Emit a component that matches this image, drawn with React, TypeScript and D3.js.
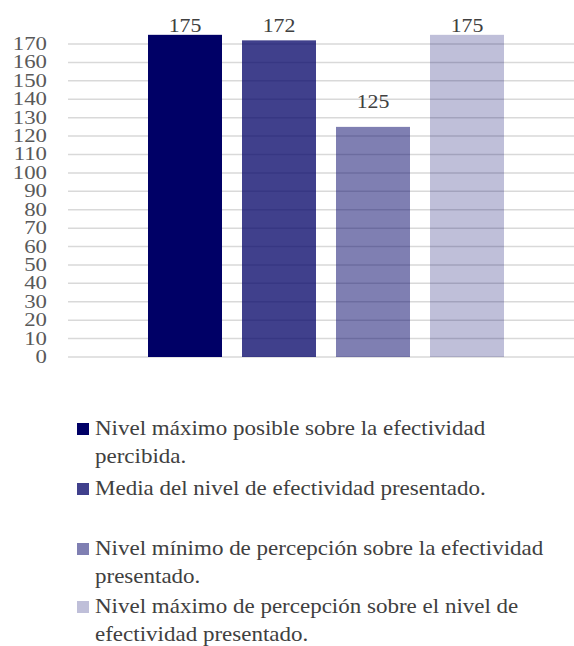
import React from "react";
import * as d3 from "d3";

const series = [
  "Nivel máximo posible sobre la efectividad percibida.",
  "Media del nivel de efectividad presentado.",
  "Nivel mínimo de percepción sobre la efectividad presentado.",
  "Nivel máximo de percepción sobre el nivel de efectividad presentado.",
];
const values = [175, 172, 125, 175];
const opacities = [1, 0.75, 0.5, 0.25];
const legendLines = [
  ["Nivel máximo posible sobre la efectividad", "percibida."],
  ["Media del nivel de efectividad presentado."],
  ["Nivel mínimo de percepción sobre la efectividad", "presentado."],
  ["Nivel máximo de percepción sobre el nivel de", "efectividad presentado."],
];
const yTicks = d3.range(0, 171, 10);

const W = 574;
const H = 646;
const FONT = "'Liberation Serif', 'Times New Roman', Times, serif";
const BASE = "#000066";

export default function App() {
  const y = d3.scaleLinear().domain([0, 180]).range([357, 357 - 18 * 18.41]);
  const x = d3
    .scaleBand<string>()
    .domain(series)
    .range([148, 504])
    .paddingInner(20 / 94)
    .paddingOuter(0);
  const legendY = [435, 495, 555, 613];

  return (
    <div style={{ position: "absolute", left: 0, top: 0 }}>
      <svg width={W} height={H} style={{ display: "block" }}>
        <rect width={W} height={H} fill="#fff" />
        {yTicks.map((t) => (
          <g key={t}>
            <line x1={68} x2={574} y1={y(t)} y2={y(t)} stroke="#d9d9d9" strokeWidth={1.5} />
            <text
              transform={`translate(47,${y(t) + 6}) scale(1.2,1)`}
              textAnchor="end"
              fontSize={19}
              fill="#595959"
              fontFamily={FONT}
            >
              {t}
            </text>
          </g>
        ))}
        {series.map((s, i) => (
          <rect
            key={s}
            x={x(s)}
            y={y(values[i])}
            width={x.bandwidth()}
            height={y(0) - y(values[i])}
            fill={BASE}
            fillOpacity={opacities[i]}
          />
        ))}
        {series.map((s, i) => (
          <text
            key={s}
            transform={`translate(${(x(s) as number) + x.bandwidth() / 2},${Math.max(32, y(values[i]) - 19)}) scale(1.12,1)`}
            textAnchor="middle"
            fontSize={19.5}
            fill="#404040"
            fontFamily={FONT}
          >
            {values[i]}
          </text>
        ))}
        {series.map((s, i) => (
          <g key={s}>
            <rect x={77} y={legendY[i] - 12} width={12} height={12} fill={BASE} fillOpacity={opacities[i]} />
            {legendLines[i].map((ln, j) => (
              <text
                key={j}
                transform={`translate(95,${legendY[i] + j * 27.5}) scale(1.15,1)`}
                fontSize={20}
                fill="#404040"
                fontFamily={FONT}
              >
                {ln}
              </text>
            ))}
          </g>
        ))}
      </svg>
    </div>
  );
}
